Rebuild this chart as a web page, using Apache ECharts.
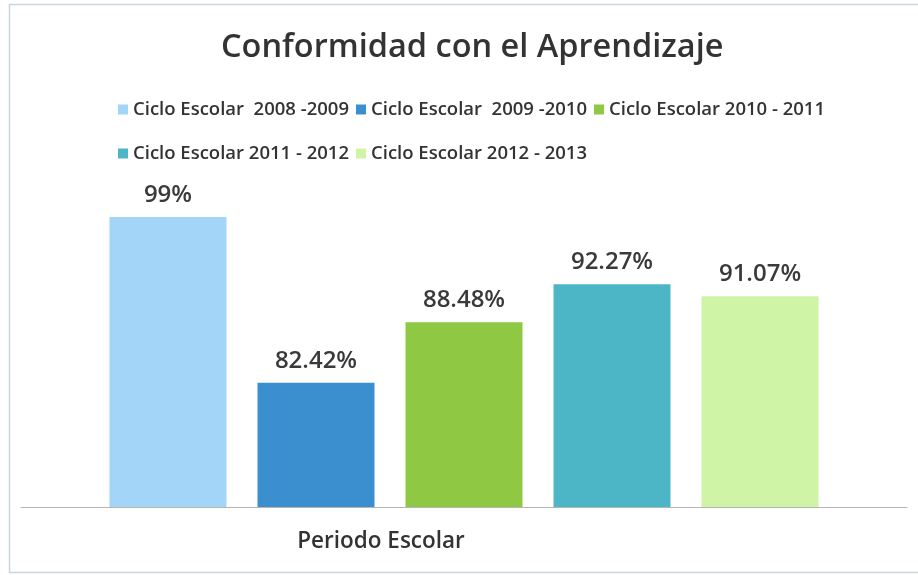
<!DOCTYPE html>
<html>
<head>
<meta charset="utf-8">
<script src="https://cdn.jsdelivr.net/npm/echarts@6/dist/echarts.min.js"></script>
<style>html,body{margin:0;padding:0;background:#fff;}#c{width:918px;height:575px;}</style>
</head>
<body>
<div id="c"></div>
<script>
const titleText = 'Conformidad con el Aprendizaje';
const categories = ['Periodo Escolar'];
const seriesNames = ['Ciclo Escolar  2008 -2009', 'Ciclo Escolar  2009 -2010', 'Ciclo Escolar 2010 - 2011', 'Ciclo Escolar 2011 - 2012', 'Ciclo Escolar 2012 - 2013'];
const seriesValues = [99, 82.42, 88.48, 92.27, 91.07];
const valueLabels = ['99%', '82.42%', '88.48%', '92.27%', '91.07%'];
const colors = ['#a2d5f7', '#3b8fcf', '#8fc944', '#4db6c6', '#cff4a6'];

const chart = echarts.init(document.getElementById('c'));
const font = '"Open Sans", sans-serif';
const series = seriesNames.map((n, i) => ({
  name: n,
  type: 'bar',
  data: [seriesValues[i]],
  barWidth: 117,
  barGap: '26.5%',
  itemStyle: { color: colors[i] },
  label: {
    show: true, position: 'top', distance: 10,
    formatter: () => valueLabels[i],
    fontFamily: font, fontSize: 24, fontWeight: 600, color: '#3a3a3a'
  }
}));
chart.setOption({
  backgroundColor: '#fff',
  animation: false,
  title: {
    text: titleText, left: 216, top: 26,
    textStyle: { fontFamily: font, fontSize: 32.5, fontWeight: 600, color: '#333' }
  },
  legend: [
    { data: seriesNames.slice(0, 3), left: 113, top: 95, itemWidth: 10, itemHeight: 10, itemGap: 7,
      icon: 'rect', textStyle: { fontFamily: font, fontSize: 18.5, fontWeight: 600, color: '#333' } },
    { data: seriesNames.slice(3), left: 113, top: 139, itemWidth: 10, itemHeight: 10, itemGap: 7,
      icon: 'rect', textStyle: { fontFamily: font, fontSize: 18.5, fontWeight: 600, color: '#333' } }
  ],
  grid: { left: 21, right: 11, top: 207, bottom: 68 },
  xAxis: {
    type: 'category', data: categories,
    axisLine: { lineStyle: { color: '#b5b5b5', width: 1 } },
    axisTick: { show: false },
    axisLabel: { margin: 23, padding: [0, 166, 0, 0], fontFamily: font, fontSize: 22.5, fontWeight: 600, color: '#333' }
  },
  yAxis: { type: 'value', min: 70, max: 100, show: false, splitLine: { show: false } },
  series: series,
  graphic: [{
    type: 'rect', shape: { x: 9.5, y: 4.5, width: 920, height: 568 }, silent: true,
    style: { fill: 'none', stroke: '#c8d6dc', lineWidth: 1.5 }
  }]
});
</script>
</body>
</html>
